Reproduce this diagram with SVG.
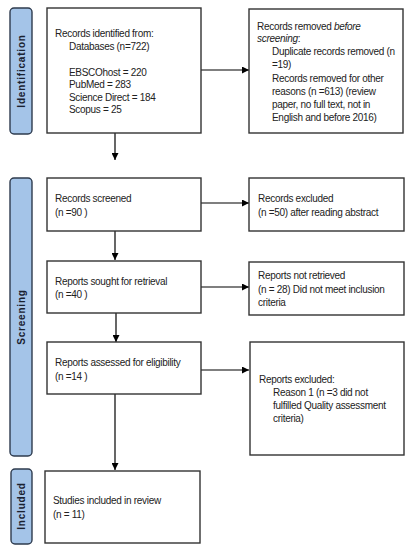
<svg xmlns="http://www.w3.org/2000/svg" width="413" height="550" viewBox="0 0 413 550">
<defs>
<marker id="ah" viewBox="0 0 8 8" refX="8" refY="4" markerWidth="7" markerHeight="7" markerUnits="userSpaceOnUse" orient="auto">
<path d="M0,0 L8,4 L0,8 Z" fill="#000"/>
</marker>
<style>
.box{fill:#fff;stroke:#333;stroke-width:1.4}
.bar{fill:#a4c4e8;stroke:#2e3b4e;stroke-width:1.4}
.t{font-family:"Liberation Sans",Arial,sans-serif;font-size:10px;letter-spacing:-0.3px;fill:#222}
.lbl{font-family:"Liberation Sans",Arial,sans-serif;font-size:10px;font-weight:bold;letter-spacing:0.8px;fill:#1a2230;text-anchor:middle}
.c{stroke:#000;stroke-width:1.2;fill:none;marker-end:url(#ah)}
</style>
</defs>
<rect width="413" height="550" fill="#fff"/>

<g id="bar-identification">
<rect class="bar" x="10" y="8" width="22" height="126" rx="4"/>
<text class="lbl" transform="translate(24.5,71) rotate(-90)">Identification</text>
</g>
<g id="bar-screening">
<rect class="bar" x="10" y="178" width="22" height="278" rx="4"/>
<text class="lbl" transform="translate(24.5,317) rotate(-90)">Screening</text>
</g>
<g id="bar-included">
<rect class="bar" x="11" y="469" width="21" height="75" rx="4"/>
<text class="lbl" transform="translate(24.5,506) rotate(-90)">Included</text>
</g>

<g id="connectors">
<line class="c" x1="115" y1="133" x2="115" y2="160"/>
<line class="c" x1="201" y1="70" x2="249" y2="70"/>
<line class="c" x1="115" y1="231" x2="115" y2="260"/>
<line class="c" x1="201" y1="203" x2="249" y2="203"/>
<line class="c" x1="116" y1="313" x2="116" y2="342"/>
<line class="c" x1="201" y1="287" x2="249" y2="287"/>
<line class="c" x1="115" y1="394" x2="115" y2="470"/>
<line class="c" x1="201" y1="370" x2="249" y2="370"/>
</g>

<g id="n-identified">
<rect class="box" x="47" y="8" width="154" height="125"/>
<text class="t" x="55" y="37">Records identified from:</text>
<text class="t" x="69" y="49.5">Databases (n=722)</text>
<text class="t" x="69" y="75.5">EBSCOhost = 220</text>
<text class="t" x="69" y="88">PubMed = 283</text>
<text class="t" x="69" y="100.5">Science Direct = 184</text>
<text class="t" x="69" y="113">Scopus = 25</text>
</g>

<g id="n-removed">
<rect class="box" x="249" y="9" width="154" height="124"/>
<text class="t" x="257" y="29.5">Records removed <tspan font-style="italic">before</tspan></text>
<text class="t" x="257" y="42" font-style="italic">screening<tspan font-style="normal">:</tspan></text>
<text class="t" x="272" y="55">Duplicate records removed (n</text>
<text class="t" x="272" y="68">=19)</text>
<text class="t" x="272" y="81.5">Records removed for other</text>
<text class="t" x="272" y="94.5">reasons (n =613) (review</text>
<text class="t" x="272" y="107.5">paper, no full text, not in</text>
<text class="t" x="272" y="120.5">English and before 2016)</text>
</g>

<g id="n-screened">
<rect class="box" x="47" y="178" width="154" height="53"/>
<text class="t" x="55" y="202">Records screened</text>
<text class="t" x="55" y="216">(n =90 )</text>
</g>

<g id="n-excluded">
<rect class="box" x="249" y="178" width="155" height="53"/>
<text class="t" x="258" y="202">Records excluded</text>
<text class="t" x="258" y="216">(n =50) after reading abstract</text>
</g>

<g id="n-sought">
<rect class="box" x="47" y="261" width="154" height="52"/>
<text class="t" x="55" y="284.5">Reports sought for retrieval</text>
<text class="t" x="55" y="298">(n =40 )</text>
</g>

<g id="n-notretrieved">
<rect class="box" x="249" y="262" width="155" height="53"/>
<text class="t" x="258" y="279">Reports not retrieved</text>
<text class="t" x="258" y="292.5">(n = 28) Did not meet inclusion</text>
<text class="t" x="258" y="306">criteria</text>
</g>

<g id="n-assessed">
<rect class="box" x="47" y="342" width="154" height="52"/>
<text class="t" x="55" y="366">Reports assessed for eligibility</text>
<text class="t" x="55" y="380">(n =14 )</text>
</g>

<g id="n-reportsexcluded">
<rect class="box" x="250" y="342" width="154" height="113"/>
<text class="t" x="259" y="383">Reports excluded:</text>
<text class="t" x="273" y="396">Reason 1 (n =3 did not</text>
<text class="t" x="273" y="408.5">fulfilled Quality assessment</text>
<text class="t" x="273" y="421.5">criteria)</text>
</g>

<g id="n-included">
<rect class="box" x="45" y="471" width="155" height="72"/>
<text class="t" x="53" y="504">Studies included in review</text>
<text class="t" x="53" y="518">(n = 11)</text>
</g>
</svg>
